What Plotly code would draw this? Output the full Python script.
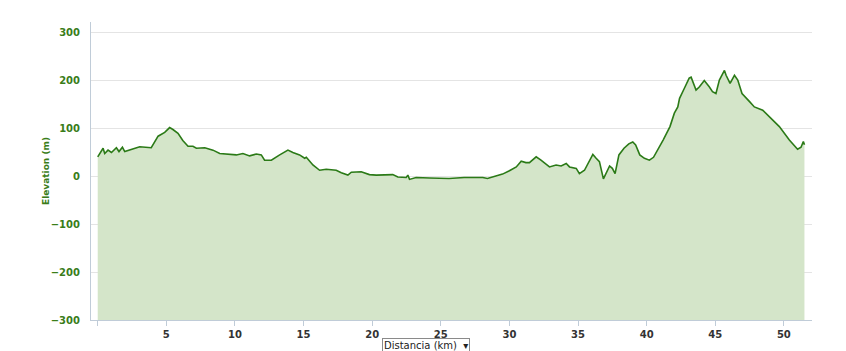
import plotly.graph_objects as go

distance_km = [0.0, 0.15, 0.39, 0.51, 0.75, 1.0, 1.36, 1.55, 1.8, 1.97, 2.33, 3.06, 3.9, 4.03, 4.4, 4.88,
               5.24, 5.48, 5.85, 6.2, 6.58, 6.94, 7.19, 7.8, 8.4, 8.89, 9.6, 10.1, 10.58, 11.07, 11.56,
               11.92, 12.16, 12.5, 12.65, 13.26, 13.86, 14.22, 14.71, 15.08, 15.2, 15.68, 16.17, 16.65,
               17.38, 17.75, 18.23, 18.48, 19.2, 19.8, 20.3, 21.5, 21.87, 22.48, 22.6, 22.72, 23.2,
               24.2, 24.9, 25.6, 26.7, 28.06, 28.4, 29.04, 29.5, 30.0, 30.5, 30.86, 31.2, 31.46, 31.95,
               32.3, 32.92, 33.4, 33.77, 34.14, 34.38, 34.87, 35.1, 35.47, 35.83, 36.08, 36.32, 36.56,
               36.85, 37.05, 37.3, 37.5, 37.7, 37.98, 38.35, 38.7, 38.99, 39.2, 39.5, 39.84, 40.2,
               40.5, 40.8, 41.2, 41.7, 42.02, 42.27, 42.4, 42.75, 43.1, 43.24, 43.6, 43.85, 44.2,
               44.56, 44.8, 45.05, 45.3, 45.67, 45.79, 46.08, 46.4, 46.64, 46.95, 47.5, 47.85, 48.46,
               48.94, 49.67, 50.4, 51.0, 51.25, 51.42, 51.5]
elevation_m = [40, 47, 58, 47, 54, 49, 59, 51, 60, 51, 54, 61, 59, 65, 83, 91,
               101, 97, 89, 74, 62, 62, 58, 59, 54, 47, 46, 44, 47, 42, 46,
               44, 33, 32, 33, 44, 54, 49, 44, 37, 39, 23, 12, 14,
               12, 7, 2, 8, 9, 3, 2, 3, -2, -3, 2, -7, -3,
               -4, -5, -5, -3, -3, -5, 0, 4, 11, 19, 31, 28, 28, 40,
               33, 19, 23, 21, 26, 19, 16, 5, 12, 30, 45, 37, 30,
               -6, 5, 21, 16, 5, 44, 58, 67, 71, 65, 44, 37, 33,
               39, 54, 75, 103, 131, 144, 162, 183, 204, 206, 179, 186, 199,
               186, 176, 172, 200, 220, 210, 193, 210, 200, 172, 155, 144, 137,
               124, 103, 75, 56, 60, 72, 65]
y_floor = -300
x_tickvals = [0, 5, 10, 15, 20, 25, 30, 35, 40, 45, 50]
x_ticktext = ["", "5", "10", "15", "20", "25", "30", "35", "40", "45", "50"]
y_tickvals = [-300, -200, -100, 0, 100, 200, 300]

fig = go.Figure()
fig.add_trace(go.Scatter(x=distance_km, y=[y_floor] * len(distance_km), mode="lines",
                         line=dict(width=0, color="rgba(0,0,0,0)"), hoverinfo="skip", showlegend=False))
fig.add_trace(go.Scatter(x=distance_km, y=elevation_m, mode="lines", fill="tonexty",
                         fillcolor="#d4e5c9", line=dict(color="#2b7a17", width=1.6), showlegend=False))

fig.update_layout(
    width=846, height=351,
    margin=dict(l=91, r=34, t=22, b=31),
    paper_bgcolor="white", plot_bgcolor="white",
    font=dict(family="DejaVu Sans", size=10),
    xaxis=dict(range=[-0.49, 52.05], tickvals=x_tickvals, ticktext=x_ticktext,
               showgrid=False, zeroline=False, showline=True, linecolor="#c0ccd8", linewidth=1,
               ticks="outside", ticklen=5, tickcolor="#c0ccd8",
               tickfont=dict(family="DejaVu Sans", size=10, color="#333333", weight="bold")),
    yaxis=dict(range=[-300, 321], tickvals=y_tickvals, showgrid=True, gridcolor="#e4e4e4",
               zeroline=False, showline=True, linecolor="#c0ccd8", linewidth=1, ticks="",
               ticklabelstandoff=8,
               tickfont=dict(family="DejaVu Sans", size=10, color="#3a7d19", weight="bold")),
    annotations=[
        dict(text="Elevation (m)", x=46, y=171, xref="paper", yref="paper", showarrow=False,
             xanchor="center", yanchor="middle",
             textangle=-90, font=dict(family="DejaVu Sans", size=9, color="#3a7d19", weight="bold")),
        dict(text="Distancia (km)  \u25BE", x=382, y=338, xref="paper", yref="paper", showarrow=False,
             xanchor="left", yanchor="top", bordercolor="#8a8a8a", borderwidth=1, borderpad=1,
             bgcolor="white", font=dict(family="DejaVu Sans", size=10, color="#222222")),
    ],
)
# convert pixel positions of annotations to paper coords
plot_w = 846 - 91 - 34
plot_h = 351 - 22 - 31
anns = list(fig.layout.annotations)
for a in anns:
    a.x = (a.x - 91) / plot_w
    a.y = (351 - 31 - a.y) / plot_h
fig.layout.annotations = anns

fig.write_html("out.html")
